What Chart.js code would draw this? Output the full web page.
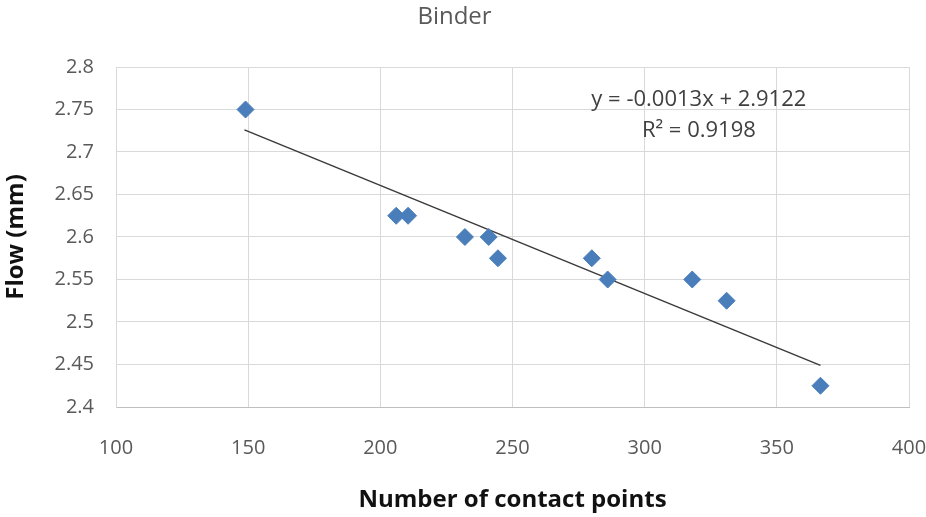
<!DOCTYPE html>
<html>
<head>
<meta charset="utf-8">
<title>Binder</title>
<script src="https://cdn.jsdelivr.net/npm/chart.js@4"></script>
<style>
  html, body { margin: 0; padding: 0; background: #fff; }
  #wrap { width: 926px; height: 517px; }
</style>
</head>
<body>
<div id="wrap"><canvas id="binderChart" width="926" height="517"></canvas></div>
<script>
// values
const contactPoints = [149, 206, 210.5, 232, 241, 244.5, 280, 286, 318, 331, 366.5];
const flowValues = [2.75, 2.625, 2.625, 2.6, 2.6, 2.575, 2.575, 2.55, 2.55, 2.525, 2.425];

// trendline ends, as drawn in the picture
const trendX = [148.6, 366.5];
const trendY = [2.726, 2.449];

const xTickValues = [100, 150, 200, 250, 300, 350, 400];
const yTickValues = [2.4, 2.45, 2.5, 2.55, 2.6, 2.65, 2.7, 2.75, 2.8];
const yTickLabels = ['2.4', '2.45', '2.5', '2.55', '2.6', '2.65', '2.7', '2.75', '2.8'];

const equationLines = ['y = -0.0013x + 2.9122', 'R\u00b2 = 0.9198'];
const equationAt = { x: 320.5, y: 2.761 };

const FONT = "'Open Sans', 'Noto Sans', sans-serif";

const equationLabel = {
    id: 'equationLabel',
    afterDatasetsDraw(chart) {
        const ctx = chart.ctx;
        const px = chart.scales.x.getPixelForValue(equationAt.x);
        const py = chart.scales.y.getPixelForValue(equationAt.y);
        ctx.save();
        ctx.font = '22px ' + FONT;
        ctx.fillStyle = '#404040';
        ctx.textAlign = 'center';
        ctx.textBaseline = 'middle';
        equationLines.forEach((line, i) => ctx.fillText(line, px, py + i * 31));
        ctx.restore();
    }
};

const ctx = document.getElementById('binderChart').getContext('2d');
new Chart(ctx, {
    type: 'scatter',
    data: {
        datasets: [{
            label: 'Binder',
            data: contactPoints.map((x, i) => ({ x: x, y: flowValues[i] })),
            pointStyle: 'rectRot',
            pointRadius: 8.5,
            pointHoverRadius: 8.5,
            backgroundColor: '#4a7ebb',
            borderColor: '#4a7ebb',
            borderWidth: 1,
            order: 1
        }, {
            label: 'Linear trend',
            type: 'line',
            data: trendX.map((x, i) => ({ x: x, y: trendY[i] })),
            borderColor: '#3a3a3a',
            borderWidth: 1.5,
            pointRadius: 0,
            fill: false,
            order: 2
        }]
    },
    options: {
        responsive: false,
        animation: false,
        layout: { padding: { left: 0, right: 17, top: 0, bottom: 0 } },
        plugins: {
            legend: { display: false },
            tooltip: { enabled: false },
            title: {
                display: true,
                text: 'Binder',
                color: '#595959',
                font: { family: FONT, size: 24, weight: 'normal' },
                padding: { top: 3, bottom: 35.2 }
            }
        },
        scales: {
            x: {
                type: 'linear',
                min: 100,
                max: 400,
                afterBuildTicks: scale => { scale.ticks = xTickValues.map(v => ({ value: v })); },
                afterFit: scale => {
                    scale.height = 110;
                    scale.paddingLeft = 0;
                    scale.paddingRight = 17;
                },
                grid: { color: '#d9d9d9', drawTicks: false },
                border: { color: '#bfbfbf' },
                ticks: {
                    color: '#595959',
                    font: { family: FONT, size: 20 },
                    padding: 29,
                    maxRotation: 0
                },
                title: {
                    display: true,
                    text: 'Number of contact points',
                    color: '#111',
                    font: { family: FONT, size: 24, weight: 'bold' },
                    padding: { top: 0, bottom: 2 }
                }
            },
            y: {
                min: 2.4,
                max: 2.8,
                afterBuildTicks: scale => { scale.ticks = yTickValues.map(v => ({ value: v })); },
                afterFit: scale => { scale.width = 116; },
                grid: { color: '#d9d9d9', drawTicks: false },
                border: { color: '#d9d9d9' },
                ticks: {
                    color: '#595959',
                    font: { family: FONT, size: 20 },
                    padding: 22,
                    callback: (value, index) => yTickLabels[index]
                },
                title: {
                    display: true,
                    text: 'Flow (mm)',
                    color: '#111',
                    font: { family: FONT, size: 24, weight: 'bold' },
                    padding: { top: 2, bottom: 0 }
                }
            }
        }
    },
    plugins: [equationLabel]
});
</script>
</body>
</html>
